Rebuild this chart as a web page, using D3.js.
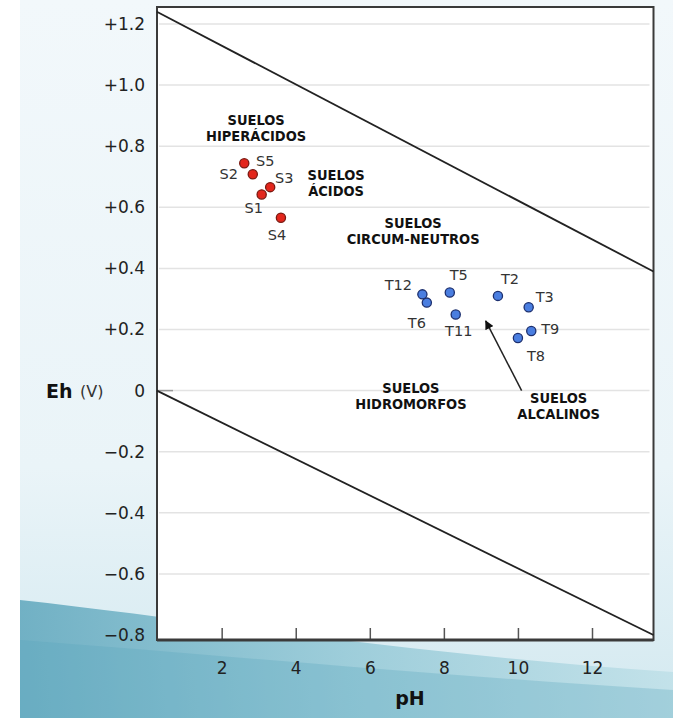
<!DOCTYPE html>
<html>
<head>
<meta charset="utf-8">
<script src="https://cdnjs.cloudflare.com/ajax/libs/d3/7.8.5/d3.min.js"></script>
<style>
  body { margin: 0; background: #fff; }
  svg text { font-family: "DejaVu Sans", Verdana, sans-serif; }
  .region { font-weight: bold; font-size: 14.5px; fill: #111; font-stretch: condensed; }
  .plabel { font-size: 14.5px; fill: #333; }
  .tick text { font-size: 17px; fill: #222; }
</style>
</head>
<body>
<svg id="chart" width="673" height="718"></svg>
<script>
// ---- data ----
var sNames = ["S1", "S2", "S3", "S4", "S5"];
var sPH    = [3.08, 2.84, 3.31, 3.60, 2.61];
var sEh    = [0.642, 0.708, 0.666, 0.566, 0.744];

var tNames = ["T2", "T3", "T5", "T6", "T8", "T9", "T11", "T12"];
var tPH    = [9.46, 10.29, 8.16, 7.54, 10.00, 10.36, 8.32, 7.42];
var tEh    = [0.310, 0.273, 0.321, 0.288, 0.172, 0.195, 0.249, 0.315];

// stability limits of water (pH, Eh)
var upperLine = [[0.25, 1.24], [13.66, 0.39]];
var lowerLine = [[0.25, 0.0], [13.66, -0.80]];

var xTicks = [2, 4, 6, 8, 10, 12];
var yTicks = [1.2, 1.0, 0.8, 0.6, 0.4, 0.2, 0, -0.2, -0.4, -0.6, -0.8];
var yTickLabels = ["+1.2", "+1.0", "+0.8", "+0.6", "+0.4", "+0.2", "0", "\u22120.2", "\u22120.4", "\u22120.6", "\u22120.8"];

var regions = [
  { lines: ["SUELOS", "HIPERÁCIDOS"], pH: 2.93, eh: 0.86 },
  { lines: ["SUELOS", "ÁCIDOS"], pH: 5.09, eh: 0.681 },
  { lines: ["SUELOS", "CIRCUM-NEUTROS"], pH: 7.17, eh: 0.521 },
  { lines: ["SUELOS", "HIDROMORFOS"], pH: 7.11, eh: -0.018 },
  { lines: ["SUELOS", "ALCALINOS"], pH: 11.10, eh: -0.05 }
];
var arrowFrom = [10.10, 0.0], arrowTo = [9.13, 0.228];

// label offsets in px (dx, dy of text centre from point)
var labelPos = {
  S1: [-8, 14], S2: [-24, 0], S3: [14, -9], S4: [-4, 17], S5: [21, -2],
  T2: [12, -17], T3: [16, -10], T5: [9, -18], T6: [-10, 20], T8: [18, 18],
  T9: [19, -2], T11: [3, 16], T12: [-24, -9]
};

// ---- layout ----
var svg = d3.select("#chart");
var W = 673, H = 718;
var pLeft = 157, pRight = 653.5, pTop = 7, pBottom = 640;

var x = d3.scaleLinear().domain([0, 12]).range([147.6, 592]);
var y = d3.scaleLinear().domain([-0.8, 1.2]).range([635, 24]);

// background
var defs = svg.append("defs");
var g1 = defs.append("linearGradient").attr("id", "swoosh").attr("x1", 0).attr("x2", 1).attr("y1", 0).attr("y2", 0);
g1.append("stop").attr("offset", 0).attr("stop-color", "#5ea6bc");
g1.append("stop").attr("offset", 0.5).attr("stop-color", "#93c8d6");
g1.append("stop").attr("offset", 1).attr("stop-color", "#bfe0e8");
var g2 = defs.append("linearGradient").attr("id", "panel").attr("x1", 0).attr("x2", 0).attr("y1", 0).attr("y2", 1);
g2.append("stop").attr("offset", 0).attr("stop-color", "#f2f8fb");
g2.append("stop").attr("offset", 0.65).attr("stop-color", "#eaf4f8");
g2.append("stop").attr("offset", 1).attr("stop-color", "#d3e9f0");

svg.append("rect").attr("x", 20).attr("y", 0).attr("width", W - 20).attr("height", H).attr("fill", "url(#panel)");
svg.append("path")
  .attr("d", "M20,600 C200,620 420,655 673,672 L673,718 L20,718 Z")
  .attr("fill", "url(#swoosh)").attr("opacity", 0.85);
svg.append("path")
  .attr("d", "M20,640 C220,655 430,675 673,690 L673,718 L20,718 Z")
  .attr("fill", "#5aa7bd").attr("opacity", 0.3);

// plot area
svg.append("rect").attr("x", pLeft).attr("y", pTop).attr("width", pRight - pLeft).attr("height", pBottom - pTop)
  .attr("fill", "#fff");

// gridlines
svg.append("g").selectAll("line").data(yTicks.filter(function (d) { return d !== -0.8; })).enter().append("line")
  .attr("x1", pLeft + 2).attr("x2", pRight - 4)
  .attr("y1", function (d) { return y(d); }).attr("y2", function (d) { return y(d); })
  .attr("stroke", "#e3e3e3").attr("stroke-width", 1.5);

// small tick at zero
svg.append("line").attr("x1", pLeft).attr("x2", pLeft + 16).attr("y1", y(0)).attr("y2", y(0))
  .attr("stroke", "#999").attr("stroke-width", 1.5);

// axes
var xAxis = svg.append("g").attr("transform", "translate(0," + pBottom + ")")
  .call(d3.axisBottom(x).tickValues(xTicks).tickSizeInner(-12).tickSizeOuter(0).tickPadding(22));
xAxis.select(".domain").remove();
xAxis.selectAll(".tick line").attr("stroke", "#555").attr("stroke-width", 1.5);

var yAxis = svg.append("g").attr("transform", "translate(" + (pLeft - 12) + ",0)")
  .call(d3.axisLeft(y).tickValues(yTicks).tickSize(0).tickPadding(0)
    .tickFormat(function (d, i) { return yTickLabels[i]; }));
yAxis.select(".domain").remove();

// frame
svg.append("rect").attr("x", pLeft).attr("y", pTop).attr("width", pRight - pLeft).attr("height", pBottom - pTop)
  .attr("fill", "none").attr("stroke", "#3a3a3a").attr("stroke-width", 2);
svg.append("line").attr("x1", pLeft).attr("x2", pRight).attr("y1", pBottom).attr("y2", pBottom)
  .attr("stroke", "#3a3a3a").attr("stroke-width", 3);

// water limits
var line = d3.line().x(function (d) { return x(d[0]); }).y(function (d) { return y(d[1]); });
[upperLine, lowerLine].forEach(function (l) {
  svg.append("path").attr("d", line(l)).attr("fill", "none").attr("stroke", "#222").attr("stroke-width", 1.8);
});

// arrow
defs.append("marker").attr("id", "head").attr("viewBox", "0 0 10 10").attr("refX", 9).attr("refY", 5)
  .attr("markerWidth", 9).attr("markerHeight", 9).attr("orient", "auto-start-reverse")
  .attr("markerUnits", "userSpaceOnUse")
  .append("path").attr("d", "M0,0 L10,5 L0,10 Z").attr("fill", "#111");
svg.append("line")
  .attr("x1", x(arrowFrom[0])).attr("y1", y(arrowFrom[1]))
  .attr("x2", x(arrowTo[0])).attr("y2", y(arrowTo[1]))
  .attr("stroke", "#222").attr("stroke-width", 1.5).attr("marker-end", "url(#head)");

// region labels
regions.forEach(function (r) {
  var t = svg.append("text").attr("class", "region").attr("text-anchor", "middle")
    .attr("x", x(r.pH)).attr("y", y(r.eh) - 8 + 5);
  r.lines.forEach(function (s, i) {
    t.append("tspan").attr("x", x(r.pH)).attr("dy", i === 0 ? 0 : 16).text(s);
  });
});

// points
function drawSet(names, ph, eh, fill, stroke) {
  var data = names.map(function (n, i) { return { name: n, pH: ph[i], eh: eh[i] }; });
  var g = svg.append("g");
  g.selectAll("circle").data(data).enter().append("circle")
    .attr("cx", function (d) { return x(d.pH); }).attr("cy", function (d) { return y(d.eh); })
    .attr("r", 4.6).attr("fill", fill).attr("stroke", stroke).attr("stroke-width", 1.3);
  g.selectAll("text").data(data).enter().append("text").attr("class", "plabel")
    .attr("text-anchor", "middle").attr("dominant-baseline", "central")
    .attr("x", function (d) { return x(d.pH) + labelPos[d.name][0]; })
    .attr("y", function (d) { return y(d.eh) + labelPos[d.name][1]; })
    .text(function (d) { return d.name; });
}
drawSet(sNames, sPH, sEh, "#e3261c", "#7a1a12");
drawSet(tNames, tPH, tEh, "#4a7ee0", "#1c2f6e");

// axis titles
svg.append("text").attr("x", 46).attr("y", y(0)).attr("dominant-baseline", "central")
  .style("font-weight", "bold").style("font-size", "19px").attr("fill", "#111").text("Eh");
svg.append("text").attr("x", 80).attr("y", y(0) + 1).attr("dominant-baseline", "central")
  .style("font-size", "16px").attr("fill", "#333").text("(V)");
svg.append("text").attr("x", 410).attr("y", 698).attr("text-anchor", "middle").attr("dominant-baseline", "central")
  .style("font-weight", "bold").style("font-size", "19px").attr("fill", "#111").text("pH");
</script>
</body>
</html>
